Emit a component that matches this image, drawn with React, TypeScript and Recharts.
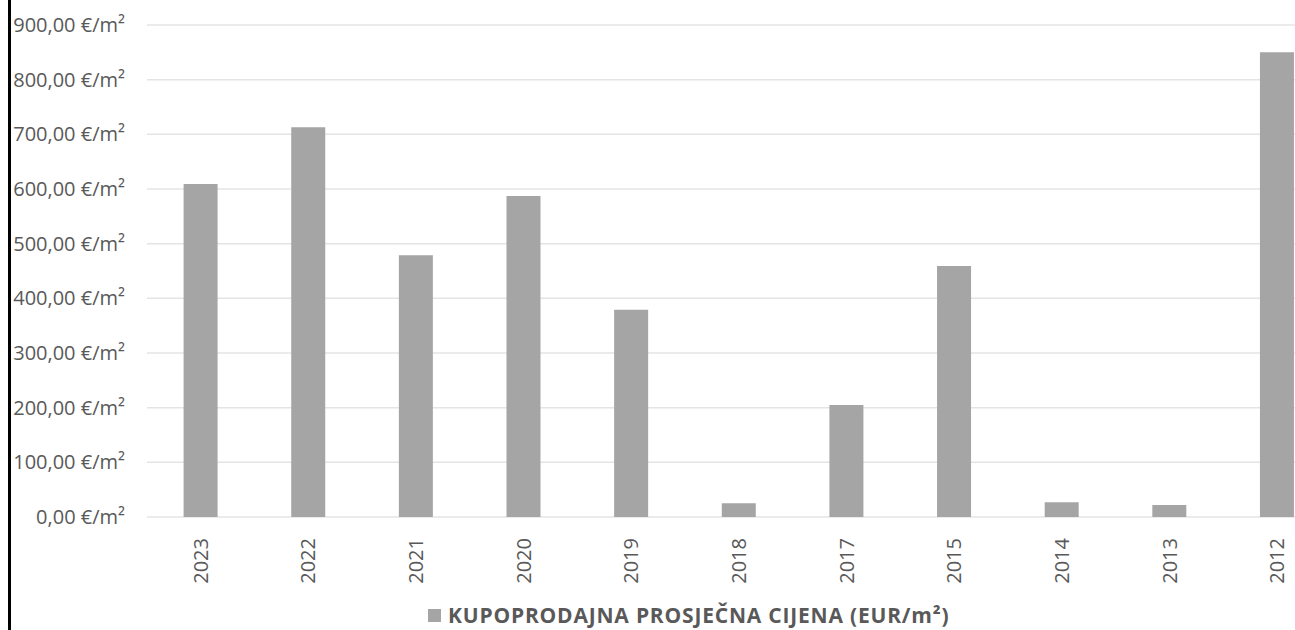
import { BarChart, Bar, XAxis, YAxis, CartesianGrid } from 'recharts'

const YEARS = ['2023', '2022', '2021', '2020', '2019', '2018', '2017', '2015', '2014', '2013', '2012']
const PRICES = [609, 713, 479, 587, 379, 25, 205, 459, 27, 22, 850]
const Y_TICKS = [0, 100, 200, 300, 400, 500, 600, 700, 800, 900]
const LEGEND_LABEL = 'KUPOPRODAJNA PROSJEČNA CIJENA (EUR/m²)'

const BAR = '#a5a5a5'
const GRID = '#e4e4e4'
const TEXT = '#595959'
const FONT = '"Open Sans", sans-serif'

const data = YEARS.map((year, i) => ({ year, price: PRICES[i] }))

function formatEur(v: number): string {
  return `${v.toFixed(2).replace('.', ',')} €/m²`
}

function YearTick({ x, y, payload }: { x?: number; y?: number; payload?: { value: string } }) {
  return (
    <text
      x={0}
      y={0}
      dy="0.35em"
      transform={`translate(${x},${(y ?? 0) + 13}) rotate(-90)`}
      textAnchor="end"
      fill={TEXT}
      fontSize={20}
      fontFamily={FONT}
    >
      {payload?.value}
    </text>
  )
}

export default function App() {
  return (
    <div style={{ position: 'fixed', left: 0, top: 0, width: 1295, height: 630, overflow: 'hidden', background: '#fff' }}>
      <div style={{ position: 'absolute', left: 8, top: 0, width: 3, height: 630, background: '#000' }} />
      <div style={{ position: 'absolute', left: 0, top: 0 }}>
        <BarChart width={1331} height={630} data={data} margin={{ top: 25, right: 0, bottom: 0, left: 0 }} barCategoryGap="34%">
          <CartesianGrid vertical={false} stroke={GRID} strokeWidth={1.5} />
          <XAxis dataKey="year" axisLine={false} tickLine={false} height={113} interval={0} tick={<YearTick />} />
          <YAxis
            domain={[0, 900]}
            ticks={Y_TICKS}
            width={147}
            axisLine={false}
            tickLine={false}
            tickSize={6}
            tickMargin={16}
            tickFormatter={formatEur}
            tick={{ fill: TEXT, fontSize: 20, fontFamily: FONT }}
          />
          <Bar dataKey="price" fill={BAR} isAnimationActive={false} />
        </BarChart>
      </div>
      <div style={{ position: 'absolute', left: 428, top: 604, height: 22, lineHeight: 1, display: 'flex', alignItems: 'center', fontFamily: FONT, fontWeight: 700, fontSize: 21, letterSpacing: 0.8, color: TEXT, whiteSpace: 'nowrap' }}>
        <span style={{ display: 'inline-block', width: 13, height: 13, background: BAR, marginRight: 7 }} />
        <span>{LEGEND_LABEL}</span>
      </div>
    </div>
  )
}
